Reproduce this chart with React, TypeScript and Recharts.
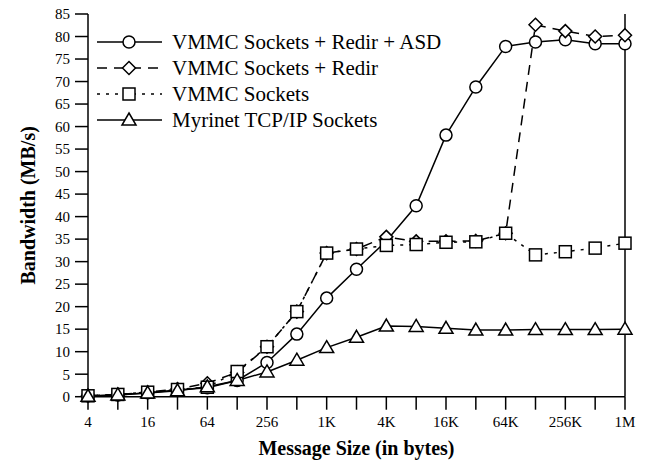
import { LineChart, Line, XAxis, YAxis, Legend } from 'recharts'

// message sizes (bytes), log2 spaced
const sizes = ['4', '8', '16', '32', '64', '128', '256', '512', '1K', '2K', '4K', '8K', '16K', '32K', '64K', '128K', '256K', '512K', '1M']

// bandwidth in MB/s
const asdBw = [0.2, 0.4, 0.9, 1.5, 2.0, 3.6, 7.6, 13.9, 21.9, 28.3, 34.6, 42.4, 58.1, 68.8, 77.8, 78.8, 79.3, 78.4, 78.4]
const redirBw = [0.2, 0.5, 1.0, 1.7, 3.0, 5.4, 11.1, 18.9, 31.9, 32.8, 35.5, 34.5, 34.5, 34.6, 36.3, 82.6, 81.2, 80.0, 80.3]
const socketsBw = [0.2, 0.5, 1.0, 1.6, 2.1, 5.6, 11.1, 18.9, 31.9, 32.8, 33.6, 33.8, 34.3, 34.4, 36.3, 31.5, 32.2, 33.0, 34.1]
const myrinetBw = [0.1, 0.4, 0.8, 1.3, 2.2, 3.6, 5.5, 8.1, 10.9, 13.2, 15.7, 15.6, 15.2, 14.8, 14.8, 14.9, 14.9, 14.9, 15.0]

const yTicks = [0, 5, 10, 15, 20, 25, 30, 35, 40, 45, 50, 55, 60, 65, 70, 75, 80, 85]

const data = sizes.map((size, i) => ({
  size,
  asd: asdBw[i],
  redir: redirBw[i],
  sockets: socketsBw[i],
  myrinet: myrinetBw[i],
}))

const FONT = '"Liberation Serif", "Times New Roman", serif'
const SW = 1.5

type DotProps = { cx?: number; cy?: number }

function CircleDot({ cx = 0, cy = 0 }: DotProps) {
  return <circle cx={cx} cy={cy} r={6} fill="#fff" stroke="#000" strokeWidth={SW} />
}

function DiamondDot({ cx = 0, cy = 0 }: DotProps) {
  const r = 6.5
  return (
    <polygon
      points={`${cx},${cy - r} ${cx + r},${cy} ${cx},${cy + r} ${cx - r},${cy}`}
      fill="#fff"
      stroke="#000"
      strokeWidth={SW}
    />
  )
}

function SquareDot({ cx = 0, cy = 0 }: DotProps) {
  return <rect x={cx - 6} y={cy - 6} width={12} height={12} fill="#fff" stroke="#000" strokeWidth={SW} />
}

function TriangleDot({ cx = 0, cy = 0 }: DotProps) {
  return (
    <polygon
      points={`${cx},${cy - 7} ${cx + 7},${cy + 5} ${cx - 7},${cy + 5}`}
      fill="#fff"
      stroke="#000"
      strokeWidth={SW}
    />
  )
}

const series = [
  { key: 'asd', name: 'VMMC Sockets + Redir + ASD', dash: undefined, Dot: CircleDot },
  { key: 'redir', name: 'VMMC Sockets + Redir', dash: '10 7', Dot: DiamondDot },
  { key: 'sockets', name: 'VMMC Sockets', dash: '3 6', Dot: SquareDot },
  { key: 'myrinet', name: 'Myrinet TCP/IP Sockets', dash: undefined, Dot: TriangleDot },
]

function renderLegend() {
  return (
    <div style={{ fontFamily: FONT, fontSize: 21, color: '#000', lineHeight: '26px' }}>
      {series.map((s) => (
        <div key={s.key} style={{ display: 'flex', alignItems: 'center', height: 26 }}>
          <svg width={76} height={26} style={{ flex: 'none' }}>
            <line x1={1} x2={66} y1={13} y2={13} stroke="#000" strokeWidth={SW} strokeDasharray={s.dash} />
            <s.Dot cx={33} cy={13} />
          </svg>
          <span style={{ whiteSpace: 'nowrap' }}>{s.name}</span>
        </div>
      ))}
    </div>
  )
}

const tickStyle = { fontSize: 15, fill: '#000', fontFamily: FONT }
const axisLine = { stroke: '#000', strokeWidth: SW }

export default function App() {
  return (
    <div style={{ margin: -8 }}>
      <LineChart width={669} height={469} data={data} margin={{ top: 14, right: 0, bottom: 0, left: 0 }}>
        <XAxis
          dataKey="size"
          interval={0}
          tick={tickStyle}
          tickFormatter={(v: string, i: number) => (i % 2 === 0 ? v : '')}
          tickSize={13}
          tickMargin={7}
          tickLine={axisLine}
          axisLine={axisLine}
          height={72.3}
          label={{
            value: 'Message Size (in bytes)',
            position: 'insideBottom',
            offset: 14,
            style: { fontFamily: FONT, fontSize: 20, fontWeight: 'bold', fill: '#000' },
          }}
        />
        <YAxis
          yAxisId="left"
          domain={[0, 85]}
          ticks={yTicks}
          interval={0}
          tick={tickStyle}
          tickSize={13}
          tickMargin={5}
          tickLine={axisLine}
          axisLine={axisLine}
          width={88}
          label={{
            value: 'Bandwidth (MB/s)',
            angle: -90,
            position: 'insideLeft',
            offset: 28,
            style: { fontFamily: FONT, fontSize: 20, fontWeight: 'bold', fill: '#000', textAnchor: 'middle' },
          }}
        />
        <YAxis
          yAxisId="right"
          orientation="right"
          domain={[0, 85]}
          ticks={yTicks}
          interval={0}
          tick={{ ...tickStyle, textAnchor: 'start' }}
          tickSize={13}
          tickMargin={7}
          tickLine={axisLine}
          axisLine={axisLine}
          width={44}
        />
        <Legend
          layout="vertical"
          align="center"
          verticalAlign="middle"
          content={renderLegend}
          wrapperStyle={{ left: 96, top: 29, width: 'auto', height: 'auto' }}
        />
        {series.map((s) => (
          <Line
            key={s.key}
            yAxisId="left"
            type="linear"
            dataKey={s.key}
            name={s.name}
            stroke="#000"
            strokeWidth={SW}
            strokeDasharray={s.dash}
            dot={<s.Dot />}
            activeDot={false}
            isAnimationActive={false}
          />
        ))}
      </LineChart>
    </div>
  )
}
